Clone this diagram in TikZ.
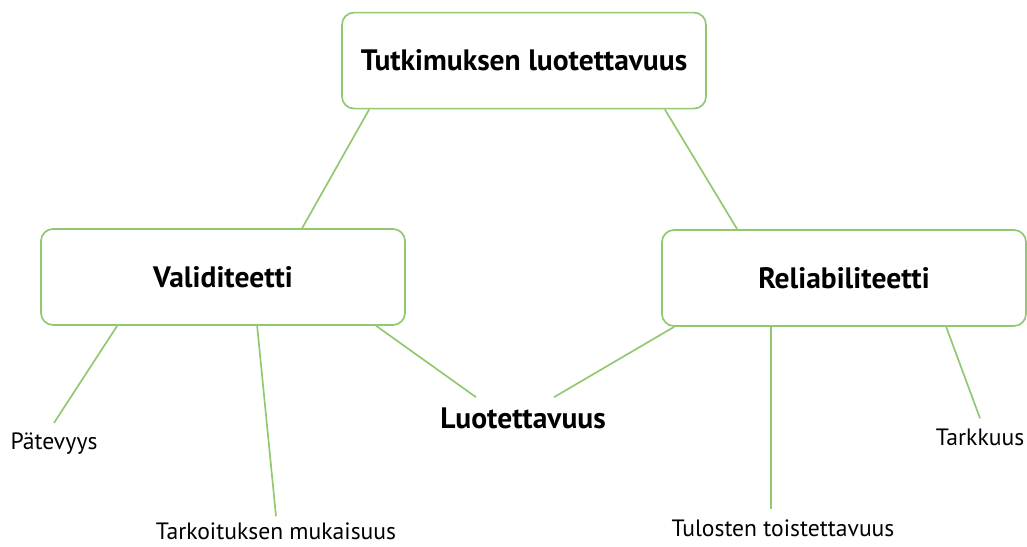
\documentclass[tikz,border=0pt]{standalone}
\usepackage{fontspec}
\setmainfont{PT Sans}
\usetikzlibrary{calc,positioning}
\definecolor{mapgreen}{RGB}{146,200,112}
\tikzset{
  topic/.style={draw=mapgreen, line width=1.2pt, rounded corners=0.3cm,
    minimum width=9.1cm, minimum height=2.4cm,
    font=\fontsize{21}{24}\selectfont\bfseries},
  leaf/.style={inner sep=0.25cm, font=\fontsize{16.8}{19}\selectfont},
  link/.style={draw=mapgreen, line width=1.2pt},
}

\begin{document}
\begin{tikzpicture}
\useasboundingbox (0,0) rectangle (25.675,13.675);
% boxes
\node[topic] (root) at (13.1,12.16) {Tutkimuksen luotettavuus};
\node[topic] (val) at (5.575,6.75) {Validiteetti};
\node[topic] (rel) at (21.1,6.725) {Reliabiliteetti};
% leaves
\node[leaf, font=\fontsize{21}{24}\selectfont\bfseries] (luot) at (13.075,3.225) {Luotettavuus};
\node[leaf] (pat) at (1.35,2.575) {Pätevyys};
\node[leaf, inner sep=0.15cm] (tark) at (6.9,0.4) {Tarkoituksen mukaisuus};
\node[leaf] (tul) at (19.575,0.475) {Tulosten toistettavuus};
\node[leaf] (tarkk) at (24.5,2.75) {Tarkkuus};
% links
\draw[link] ($(root.south west)+(0.7,0)$) -- ($(val.north west)+(6.55,0)$);
\draw[link] ($(root.south east)+(-1.05,0)$) -- ($(rel.north west)+(1.9,0)$);
\draw[link] ($(val.south west)+(1.925,0)$) -- (pat.north);
\draw[link] ($(val.south west)+(5.425,0)$) -- (tark.north);
\draw[link] ($(val.south west)+(8.4,0)$) -- ($(luot.north west)+(1.15,0)$);
\draw[link] ($(rel.south west)+(0.325,0)$) -- ($(luot.north west)+(3.1,0)$);
\draw[link] ($(rel.south west)+(2.75,0)$) coordinate (r2) -- (r2 |- tul.north);
\draw[link] ($(rel.south west)+(7.125,0)$) -- (tarkk.north);
\end{tikzpicture}
\end{document}
